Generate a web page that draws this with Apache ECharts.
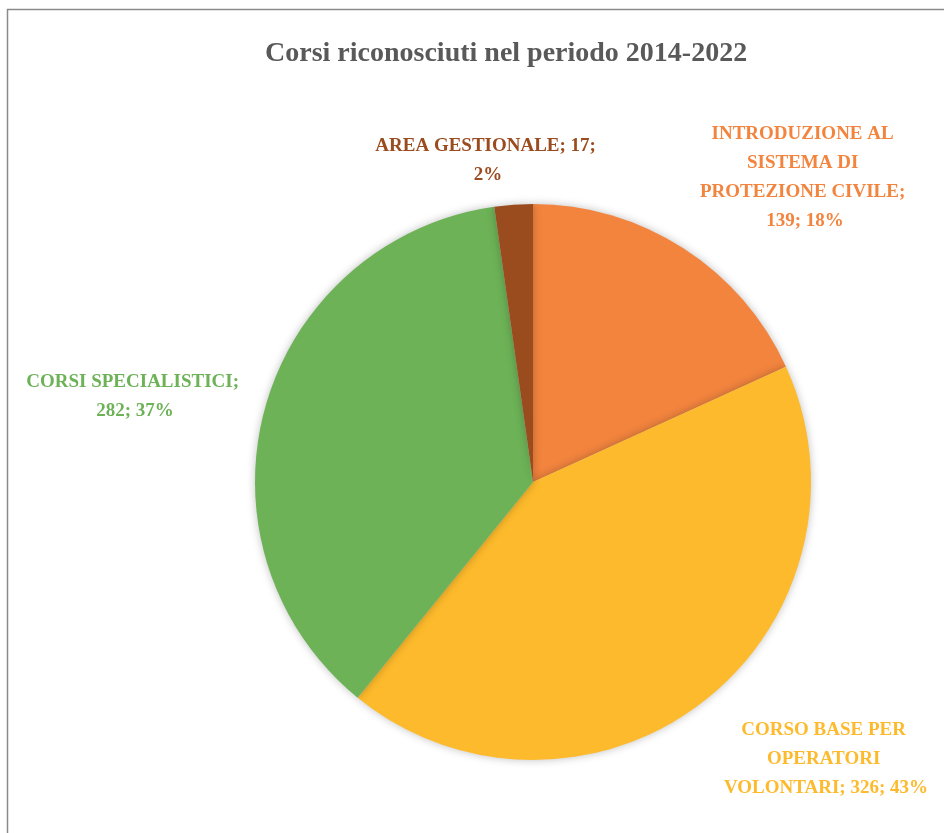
<!DOCTYPE html>
<html><head><meta charset="utf-8">
<script src="https://cdn.jsdelivr.net/npm/echarts@6/dist/echarts.min.js"></script>
<style>html,body{margin:0;padding:0;background:#fff}#c{width:944px;height:833px}</style>
</head><body><div id="c"></div>
<script>
const categories = ['INTRODUZIONE AL SISTEMA DI PROTEZIONE CIVILE', 'CORSO BASE PER OPERATORI VOLONTARI', 'CORSI SPECIALISTICI', 'AREA GESTIONALE'];
const values = [139, 326, 282, 17];
const colors = ['#F2843E', '#FDBA2C', '#6DB257', '#9A4C1F'];
const labelWidths = [225, 215, 240, 250];
const labelCenters = [[805, 178], [826, 759], [135, 397], [488, 161]];

const chart = echarts.init(document.getElementById('c'));
const serif = '"Liberation Serif", "DejaVu Serif", serif';
chart.setOption({
  animation: false,
  title: {
    text: 'Corsi riconosciuti nel periodo 2014-2022',
    left: 260, top: 35,
    textStyle: { fontFamily: serif, fontSize: 28, fontWeight: 'bold', color: '#595959' }
  },
  graphic: [{
    type: 'rect', shape: { x: 7.5, y: 9.5, width: 1000, height: 1000 },
    style: { fill: 'none', stroke: '#8a8a8a', lineWidth: 1.5 }, silent: true
  }],
  series: [{
    type: 'pie',
    center: [533, 482],
    radius: [0, 278],
    startAngle: 90,
    clockwise: true,
    data: categories.map((n, i) => ({
      name: n, value: values[i],
      itemStyle: { color: colors[i] },
      label: { color: colors[i], width: labelWidths[i] }
    })),
    itemStyle: { shadowBlur: 8, shadowColor: 'rgba(0,0,0,0.25)', borderWidth: 0 },
    label: {
      show: true, position: 'outside',
      formatter: p => p.name + '; ' + p.value + '; ' + Math.round(p.percent) + '%',
      fontFamily: serif, fontSize: 19, fontWeight: 'bold', lineHeight: 29,
      overflow: 'break', align: 'center'
    },
    labelLine: { show: false },
    labelLayout: p => ({
      x: labelCenters[p.dataIndex][0], y: labelCenters[p.dataIndex][1],
      align: 'center', verticalAlign: 'middle'
    })
  }]
});
</script></body></html>
